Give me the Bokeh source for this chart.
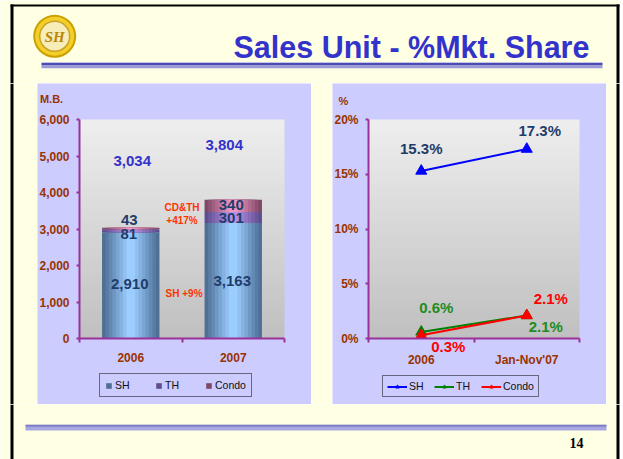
import numpy as np
from bokeh.plotting import figure
from bokeh.models import (Range1d, FixedTicker, Legend, LegendItem, Label, LabelSet,
                          NumeralTickFormatter, PrintfTickFormatter, ColumnDataSource)
from bokeh.layouts import column, row
from bokeh.core.properties import value
from bokeh.embed import file_html
from bokeh.resources import INLINE

# ---------------- data ----------------
title_text = "Sales Unit - %Mkt. Share"
page_no = "14"

years = ["2006", "2007"]
sh_units = [2910, 3163]
th_units = [81, 301]
condo_units = [43, 340]
total_units = [3034, 3804]
unit_label = "M.B."
growth_cdth = ["CD&TH", "+417%"]
growth_sh = "SH +9%"

share_periods = ["2006", "Jan-Nov'07"]
sh_share = [15.3, 17.3]
th_share = [0.6, 2.1]
condo_share = [0.3, 2.1]
share_label = "%"

# ---------------- styles ----------------
CREAM = "#FFFFE3"
LAV = "#CCCCFF"
AXIS = "#993399"
BROWN = "#993300"
NAVY = "#1F3D6B"
FONT = "Liberation Sans"
W = 620


def deco_fig(w, h):
    return figure(width=w, height=h, x_range=Range1d(0, w), y_range=Range1d(h, 0),
                  x_axis_type=None, y_axis_type=None, toolbar_location=None,
                  output_backend="svg", min_border=0, title=None,
                  background_fill_color=CREAM, border_fill_color=CREAM,
                  outline_line_color=None)


def mix(c1, c2, t):
    a = [int(c1[i:i + 2], 16) for i in (1, 3, 5)]
    b = [int(c2[i:i + 2], 16) for i in (1, 3, 5)]
    return "#%02x%02x%02x" % tuple(int(round(a[k] + (b[k] - a[k]) * t)) for k in range(3))


def chart_fig(n_cat, y_top, px_left, px_right, px_top, px_bottom, plot_w, plot_h):
    # panel 274 x 321 px; plot area plot_w x plot_h px placed with given margins
    ux = n_cat / plot_w
    uy = y_top / plot_h
    p = figure(width=274, height=321,
               x_range=Range1d(-px_left * ux, n_cat + px_right * ux),
               y_range=Range1d(-px_bottom * uy, y_top + px_top * uy),
               toolbar_location=None, output_backend="svg", title=None, min_border=0,
               background_fill_color=LAV, border_fill_color=LAV, outline_line_color=None)
    return p


def style_axes(p, n_cat, y_top):
    for ax in (p.xaxis[0], p.yaxis[0]):
        ax.fixed_location = 0
        ax.axis_line_color = AXIS
        ax.axis_line_width = 2
        ax.major_label_text_color = BROWN
        ax.major_label_text_font = FONT
        ax.major_label_text_font_style = "bold"
        ax.major_label_text_font_size = "12px"
        ax.minor_tick_line_color = None
    ya = p.yaxis[0]
    ya.bounds = (0, y_top)
    ya.major_tick_line_color = AXIS
    ya.major_tick_line_width = 2
    ya.major_tick_in = 0
    ya.major_tick_out = 3
    ya.major_label_standoff = 7
    xa = p.xaxis[0]
    xa.bounds = (0, n_cat)
    xa.major_tick_line_color = None
    xa.major_tick_in = 0
    xa.major_tick_out = 0
    xa.minor_tick_line_color = AXIS
    xa.minor_tick_line_width = 2
    xa.minor_tick_in = 0
    xa.minor_tick_out = 4
    xa.major_label_standoff = 10
    p.grid.visible = False


def frame_gradient(p, x0, x1, y0, y1):
    n = 64
    img = np.empty((n, 1), dtype=np.uint32)
    view = img.view(dtype=np.uint8).reshape((n, 1, 4))
    for i in range(n):
        g = int(round(0xC0 + (0xEE - 0xC0) * i / (n - 1)))
        view[i, 0, :] = [g, g, g, 255]
    p.image_rgba(image=[img], x=x0, y=y0, dw=x1 - x0, dh=y1 - y0, level="image")


def make_legend(items, loc, spacing, gw, gh, standoff, padding):
    return Legend(items=items, orientation="horizontal", location=loc,
                  border_line_color="black", border_line_width=1.2,
                  background_fill_alpha=0, padding=padding, spacing=spacing, margin=0,
                  glyph_width=gw, glyph_height=gh, label_height=10, label_standoff=standoff,
                  label_text_font=FONT, label_text_font_size="10.5px",
                  label_text_color="#111111")


# ---------------- header ----------------
hdr = deco_fig(W, 83)
hdr.quad(left=[10, 10, W - 4], right=[W - 1, 13, W - 1], top=[4, 4, 4], bottom=[6, 83, 83],
         fill_color="black", line_color=None)
hdr.quad(left=[41, 41, 41], right=[602, 602, 602], top=[61.7, 62.5, 65.0],
         bottom=[62.5, 65.0, 67.7], fill_color=["#B0B0E8", "#4B4BB4", "#9A9ADA"], line_color=None)
hdr.circle(x=[54.2], y=[35.8], radius=21.5, fill_color="#C9A000", line_color=None)
hdr.circle(x=[54.2], y=[35.8], radius=19.5, fill_color="#F4CF2A", line_color=None)
hdr.circle(x=[54.2], y=[35.8], radius=15, fill_color="#F6EDB8", line_color="#C9A227", line_width=1.5)
hdr.text(x=[54.2], y=[36.5], text=["SH"], text_font=value("Liberation Serif"),
         text_font_style="bold italic", text_font_size="15px", text_color="#B8860B",
         text_align="center", text_baseline="middle")
hdr.text(x=[233], y=[46.7], text=[title_text], text_font=value(FONT), text_font_style="bold",
         text_font_size="30.5px", text_color="#3333CC", text_align="left",
         text_baseline="alphabetic")

# ---------------- side spacers ----------------
sp_l = deco_fig(37, 321)
sp_l.quad(left=[10], right=[13], top=[0], bottom=[321], fill_color="black", line_color=None)
gap = deco_fig(21, 321)
gap.quad(left=[0], right=[21], top=[0], bottom=[321], fill_color=CREAM, line_color=None)
sp_r = deco_fig(14, 321)
sp_r.quad(left=[10], right=[13], top=[0], bottom=[321], fill_color="black", line_color=None)

# ---------------- chart 1: stacked bars ----------------
xb = np.arange(len(years)) + 0.5
sh = np.array(sh_units, dtype=float)
th = np.array(th_units, dtype=float)
cd = np.array(condo_units, dtype=float)
Y1 = 6000

p1 = chart_fig(len(years), Y1, 42, 27, 36, 66, 205, 219)
frame_gradient(p1, 0, len(years), 0, Y1)
style_axes(p1, len(years), Y1)
p1.yaxis[0].ticker = FixedTicker(ticks=list(range(0, Y1 + 1, 1000)))
p1.yaxis[0].formatter = NumeralTickFormatter(format="0,0")
p1.xaxis[0].ticker = FixedTicker(ticks=list(xb), minor_ticks=list(range(len(years) + 1)))
p1.xaxis[0].major_label_overrides = {float(x): y for x, y in zip(xb, years)}


def grad_bar(p, bottom, top, edge, center, width=0.56, n=8):
    first = None
    for i in range(n):
        t = i / (n - 1)
        w = width * (1 - 0.85 * t)
        r = p.vbar(x=xb, bottom=bottom, top=top, width=w, fill_color=mix(edge, center, t),
                   line_color=None)
        if first is None:
            first = r
    return first


r_sh = grad_bar(p1, 0, sh, "#4E6F96", "#9CCDFF")
r_th = grad_bar(p1, sh, sh + th, "#5E4E90", "#B890E6")
r_cd = grad_bar(p1, sh + th, sh + th + cd, "#7E4866", "#F096C2")

tot_src = ColumnDataSource(dict(x=xb, y=sh + th + cd, text=[f"{v:,}" for v in total_units],
                                dx=[1.5, -9.0], dy=[67.0, 55.0]))
p1.add_layout(LabelSet(x="x", y="y", text="text", source=tot_src, x_offset="dx", y_offset="dy",
                       text_font=value(FONT), text_font_style="bold", text_font_size="15px",
                       text_color="#3333CC", text_align="center", text_baseline="middle"))
seg_src = ColumnDataSource(dict(
    x=np.concatenate([xb, xb, xb]),
    y=np.concatenate([sh / 2, sh + th / 2, sh + th + cd / 2]),
    text=[f"{v:,}" for v in sh_units + th_units + condo_units],
    dx=[-1.0, -1.0, -2.0, -2.0, -1.5, -2.0],
    dy=[1.0, 0.0, -3.5, 0.0, 9.0, 0.5]))
p1.add_layout(LabelSet(x="x", y="y", text="text", source=seg_src, x_offset="dx", y_offset="dy",
                       text_font=value(FONT), text_font_style="bold", text_font_size="15px",
                       text_color=NAVY, text_align="center", text_baseline="middle"))
for txt, yy in zip(growth_cdth, [3594, 3237]):
    p1.add_layout(Label(x=1.0, y=yy, text=txt, text_font=FONT, text_font_style="bold",
                        text_font_size="10px", text_color="#FF3300", text_align="center",
                        text_baseline="middle"))
p1.add_layout(Label(x=1.02, y=1235, text=growth_sh, text_font=FONT, text_font_style="bold",
                    text_font_size="10px", text_color="#FF3300", text_align="center",
                    text_baseline="middle"))
p1.add_layout(Label(x=-0.273, y=6549, text=unit_label, text_font=FONT, text_font_style="bold",
                    text_font_size="11px", text_color=BROWN, text_align="center",
                    text_baseline="middle"))
leg1 = make_legend([LegendItem(label="SH", renderers=[r_sh]),
                    LegendItem(label="TH", renderers=[r_th]),
                    LegendItem(label="Condo", renderers=[r_cd])],
                   (62, 7), 20, 7, 7, 3, 5)
p1.add_layout(leg1, "center")

# ---------------- chart 2: market share lines ----------------
xs = np.arange(len(share_periods)) + 0.5
Y2 = 20
p2 = chart_fig(len(share_periods), Y2, 36, 27, 36, 66, 211, 219)
frame_gradient(p2, 0, len(share_periods), 0, Y2)
style_axes(p2, len(share_periods), Y2)
p2.yaxis[0].ticker = FixedTicker(ticks=list(range(0, Y2 + 1, 5)))
p2.yaxis[0].formatter = PrintfTickFormatter(format="%d%%")
p2.xaxis[0].ticker = FixedTicker(ticks=list(xs), minor_ticks=list(range(len(share_periods) + 1)))
p2.xaxis[0].major_label_overrides = {float(x): y for x, y in zip(xs, share_periods)}

series = [("SH", sh_share, "#0000FF", NAVY, [0.0, 13.0], [22.0, 18.6]),
          ("TH", th_share, "#008000", "#1E8C1E", [15.0, 19.0], [24.4, -11.0]),
          ("Condo", condo_share, "#FF0000", "#FF0000", [27.0, 24.0], [-11.0, 17.3])]
items = []
for name, vals, col, tcol, dx, dy in series:
    rl = p2.line(x=xs, y=vals, line_color=col, line_width=2)
    rm = p2.scatter(x=xs, y=vals, marker="triangle", size=11, fill_color=col, line_color=col)
    items.append(LegendItem(label=name, renderers=[rl, rm]))
    src = ColumnDataSource(dict(x=xs, y=vals, text=[f"{v:.1f}%" for v in vals], dx=dx, dy=dy))
    p2.add_layout(LabelSet(x="x", y="y", text="text", source=src, x_offset="dx", y_offset="dy",
                           text_font=value(FONT), text_font_style="bold", text_font_size="15px",
                           text_color=tcol, text_align="center", text_baseline="middle"))
p2.add_layout(Label(x=-0.237, y=21.73, text=share_label, text_font=FONT, text_font_style="bold",
                    text_font_size="11px", text_color=BROWN, text_align="center",
                    text_baseline="middle"))
leg2 = make_legend(items, (50, 7), 5, 20, 9, 2, 4)
p2.add_layout(leg2, "center")

# ---------------- footer ----------------
ftr = deco_fig(W, 55)
ftr.quad(left=[10, W - 4], right=[13, W - 1], top=[0, 0], bottom=[55, 55],
         fill_color="black", line_color=None)
ftr.quad(left=[25, 25, 25], right=[606, 606, 606], top=[20.3, 21.3, 23.3],
         bottom=[21.3, 23.3, 26.0], fill_color=["#4B4BB4", "#8C8CD6", "#A8A8E2"], line_color=None)
ftr.text(x=[569], y=[38.7], text=[page_no], text_font=value("Liberation Serif"),
         text_font_style="bold", text_font_size="14px", text_color="black",
         text_align="left", text_baseline="alphabetic")

root = column(hdr, row(sp_l, p1, gap, p2, sp_r), ftr)
open("out.html", "w").write(file_html(root, INLINE))
